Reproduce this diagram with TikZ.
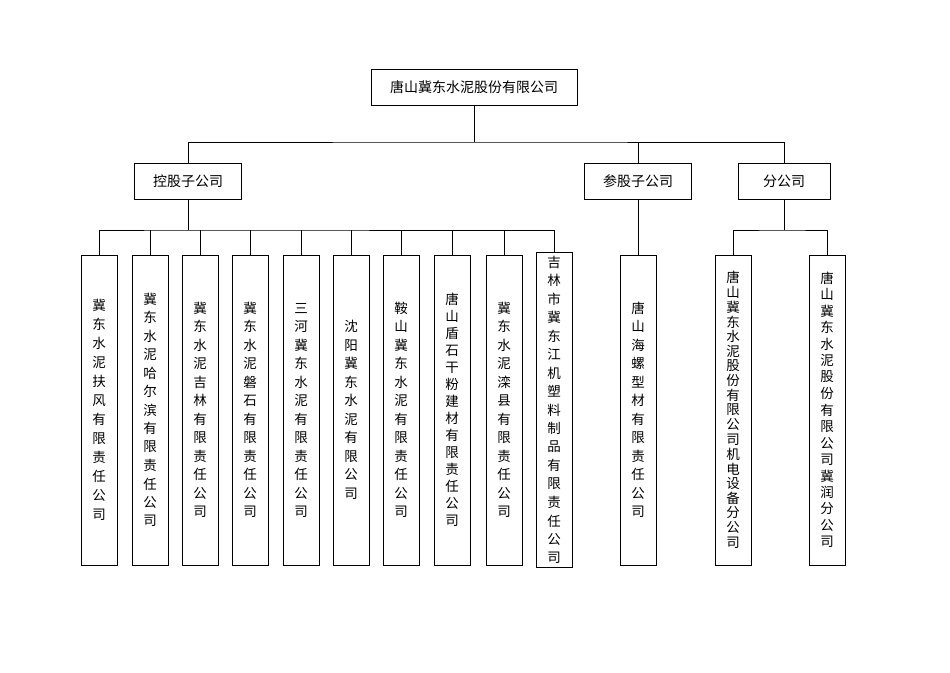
\documentclass[tikz,border=0pt]{standalone}
\usepackage{fontspec}
\setmainfont{Noto Sans CJK SC}
\def\vtx#1{\ifx#1\relax\else\hbox to 16pt{\hss\vbox to \vp{\vss\hbox{#1}\vss}\hss}\expandafter\vtx\fi}
\def\vtS#1#2{\vbox{\offinterlineskip\def\vp{#2}\vtx#1\relax}}
\begin{document}
\begin{tikzpicture}[x=1pt,y=-1pt,
 hb/.style={draw,line width=0.8pt,minimum height=36pt,inner sep=0pt,font=\fontsize{14}{16}\selectfont},
 vb/.style={draw,line width=0.8pt,minimum width=36pt,minimum height=310pt,inner sep=0pt,font=\fontsize{13.5}{16}\selectfont},
 ln/.style={line width=0.8pt}]
\useasboundingbox (0,0) rectangle (950,672);
\node[hb,minimum width=206pt] (top) at (474,87.5) {唐山冀东水泥股份有限公司};
\node[hb,minimum width=107pt] (k) at (188,181.5) {控股子公司};
\node[hb,minimum width=107pt] (c) at (638,181.5) {参股子公司};
\node[hb,minimum width=92pt] (f) at (784,181.5) {分公司};
\coordinate (h) at (474,142);
\draw[ln] (top.south) -- (h);
\draw[ln] (k.north) |- (h) -| (f.north);
\draw[ln] (c.north) -- (c.north|-h);
\foreach \n/\x/\p/\s in {
 b1/99/19/冀东水泥扶风有限责任公司,
 b2/150/18.5/冀东水泥哈尔滨有限责任公司,
 b3/200/18.5/冀东水泥吉林有限责任公司,
 b4/250/18.5/冀东水泥磐石有限责任公司,
 b5/301/18.5/三河冀东水泥有限责任公司,
 b6/351/18.5/沈阳冀东水泥有限公司,
 b7/401/18.5/鞍山冀东水泥有限责任公司,
 b8/452/17/唐山盾石干粉建材有限责任公司,
 b9/504/18.5/冀东水泥滦县有限责任公司,
 b10/554/18.5/吉林市冀东江机塑料制品有限责任公司,
 b11/638/18.5/唐山海螺型材有限责任公司,
 b12/733/14.7/唐山冀东水泥股份有限公司机电设备分公司,
 b13/827/16.5/唐山冀东水泥股份有限公司冀润分公司}
 {\node[vb] (\n) at (\x,410) {\expandafter\vtS\expandafter{\s}{\p pt}};}
\coordinate (kh) at (188,230);
\draw[ln] (k.south) -- (kh);
\draw[ln] (b1.north) |- (kh) -| (b10.north);
\foreach \n in {b2,b3,b4,b5,b6,b7,b8,b9} \draw[ln] (\n.north) -- (\n.north|-kh);
\draw[ln] (c.south) -- (b11.north);
\coordinate (fh) at (784,230);
\draw[ln] (f.south) -- (fh);
\draw[ln] (b12.north) |- (fh) -| (b13.north);
\end{tikzpicture}
\end{document}
